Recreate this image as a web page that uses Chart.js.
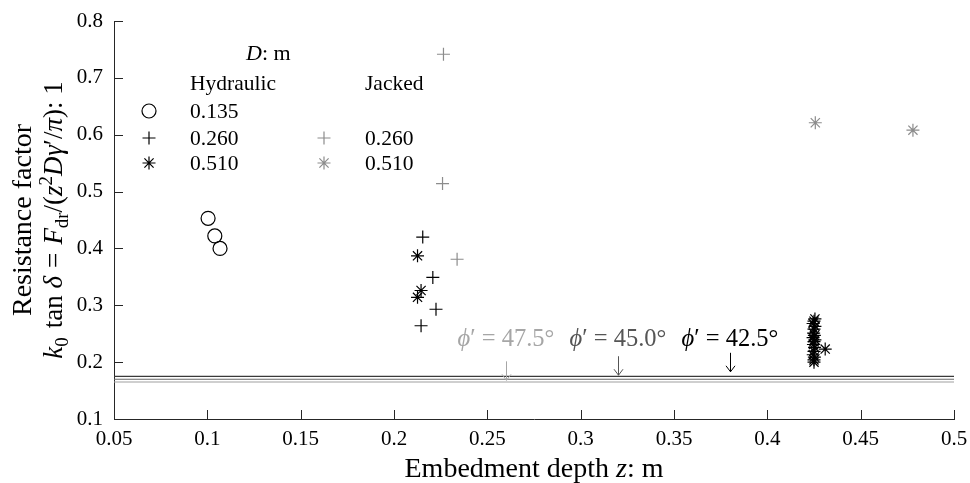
<!DOCTYPE html>
<html><head><meta charset="utf-8">
<script src="https://cdn.jsdelivr.net/npm/chart.js@4.4.1/dist/chart.umd.min.js"></script>
<style>html,body{margin:0;padding:0;background:#fff}#wrap{width:970px;height:483px;position:relative}</style>
</head><body><div id="wrap"><canvas id="c"></canvas></div>
<script>
// ---- tick values / labels ----
const xTicks = [0.05, 0.1, 0.15, 0.2, 0.25, 0.3, 0.35, 0.4, 0.45, 0.5];
const xTickLabels = ['0.05', '0.1', '0.15', '0.2', '0.25', '0.3', '0.35', '0.4', '0.45', '0.5'];
const yTicks = [0.1, 0.2, 0.3, 0.4, 0.5, 0.6, 0.7, 0.8];
const yTickLabels = ['0.1', '0.2', '0.3', '0.4', '0.5', '0.6', '0.7', '0.8'];

// ---- series: Hydraulic ----
const hyd135X = [0.1004, 0.1040, 0.1068];
const hyd135Y = [0.453, 0.422, 0.400];
const hyd260X = [0.2154, 0.2208, 0.2225, 0.2145];
const hyd260Y = [0.420, 0.349, 0.293, 0.264];
const hyd510X = [0.2126, 0.2145, 0.2126,
  0.4255, 0.4250, 0.4245, 0.4255, 0.4250, 0.4248, 0.4252, 0.4245, 0.4255, 0.4250, 0.4247, 0.4253, 0.4250, 0.4246, 0.4252, 0.4250, 0.4250,
  0.4310];
const hyd510Y = [0.387, 0.326, 0.314,
  0.276, 0.272, 0.268, 0.263, 0.258, 0.251, 0.247, 0.243, 0.239, 0.236, 0.231, 0.226, 0.219, 0.213, 0.209, 0.204, 0.200,
  0.223];

// ---- series: Jacked ----
const jac260X = [0.2265, 0.2260, 0.2338];
const jac260Y = [0.7415, 0.514, 0.381];
const jac510X = [0.4257, 0.4780];
const jac510Y = [0.621, 0.608];

// ---- reference lines for friction angles ----
const phiLabels = ['47.5', '45.0', '42.5'];
const phiLineY = [0.165, 0.170, 0.175];
const phiArrowX = [0.26, 0.32, 0.38];
const phiArrowTipY = [0.168, 0.177, 0.183];
const phiLabelY = 0.229;
const lineXRange = [0.05, 0.5];

const phiColors = ['#a6a6a6', '#555555', '#000000'];
const lineColors = ['#a0a0a0', '#6a6a6a', '#3a3a3a'];
const GRAY = '#8c8c8c';
const FAM = "'Liberation Serif', 'Times New Roman', serif";

const pts = (xs, ys) => xs.map((x, i) => ({x, y: ys[i]}));

const datasets = [];
phiLineY.forEach((yv, i) => {
  datasets.push({type: 'line', data: lineXRange.map(x => ({x, y: yv})), borderColor: lineColors[i],
    borderWidth: 1.1, pointRadius: 0, fill: false, showLine: true});
});
datasets.push(
  {label: 'H0.135', data: pts(hyd135X, hyd135Y), pointStyle: 'circle', pointRadius: 7, borderColor: '#000', backgroundColor: 'rgba(0,0,0,0)', pointBorderWidth: 1.2},
  {label: 'H0.260', data: pts(hyd260X, hyd260Y), pointStyle: 'cross', pointRadius: 6.5, borderColor: '#000', pointBorderWidth: 1.2},
  {label: 'H0.510', data: pts(hyd510X, hyd510Y), pointStyle: 'star', pointRadius: 6.5, borderColor: '#000', pointBorderWidth: 1.2},
  {label: 'J0.260', data: pts(jac260X, jac260Y), pointStyle: 'cross', pointRadius: 6.5, borderColor: GRAY, pointBorderWidth: 1.2},
  {label: 'J0.510', data: pts(jac510X, jac510Y), pointStyle: 'star', pointRadius: 6.5, borderColor: GRAY, pointBorderWidth: 1.2}
);

function drawRich(ctx, segs, size, color, align) {
  let w = 0;
  const items = segs.map(s => {
    const sz = (s.sub || s.sup) ? size * 0.7 : size;
    const font = (s.it ? 'italic ' : '') + sz + 'px ' + FAM;
    ctx.font = font;
    const m = ctx.measureText(s.t).width + (s.gap || 0) * size;
    w += m;
    return {t: s.t, font, w: m, dy: s.sub ? size * 0.22 : s.sup ? -size * 0.38 : 0};
  });
  let x = align === 'center' ? -w / 2 : align === 'right' ? -w : 0;
  ctx.fillStyle = color; ctx.textBaseline = 'alphabetic'; ctx.textAlign = 'left';
  items.forEach(it => { ctx.font = it.font; ctx.fillText(it.t, x, it.dy); x += it.w; });
}

function marker(ctx, style, x, y, r, color) {
  ctx.save(); ctx.strokeStyle = color; ctx.lineWidth = 1.2; ctx.beginPath();
  if (style === 'circle') { ctx.arc(x, y, r, 0, Math.PI * 2); }
  else {
    ctx.moveTo(x - r, y); ctx.lineTo(x + r, y); ctx.moveTo(x, y - r); ctx.lineTo(x, y + r);
    if (style === 'star') { const d = r * Math.SQRT1_2; ctx.moveTo(x - d, y - d); ctx.lineTo(x + d, y + d); ctx.moveTo(x - d, y + d); ctx.lineTo(x + d, y - d); }
  }
  ctx.stroke(); ctx.restore();
}

const decor = {
  id: 'decor',
  afterDraw(chart) {
    const {ctx, chartArea: a, scales: {x, y}} = chart;
    // inward ticks
    ctx.save(); ctx.strokeStyle = '#262626'; ctx.lineWidth = 1; ctx.beginPath();
    x.ticks.forEach(t => { const px = Math.round(x.getPixelForValue(t.value)) + 0.5; ctx.moveTo(px, a.bottom); ctx.lineTo(px, a.bottom - 9); });
    y.ticks.forEach(t => { const py = Math.round(y.getPixelForValue(t.value)) + 0.5; ctx.moveTo(a.left, py); ctx.lineTo(a.left + 9, py); });
    ctx.stroke(); ctx.restore();

    // axis titles
    ctx.save(); ctx.translate((a.left + a.right) / 2, 477);
    drawRich(ctx, [{t: 'Embedment depth '}, {t: 'z', it: true}, {t: ': m'}], 28, '#000', 'center');
    ctx.restore();
    const cy = (a.top + a.bottom) / 2;
    ctx.save(); ctx.translate(31, cy); ctx.rotate(-Math.PI / 2);
    drawRich(ctx, [{t: 'Resistance factor'}], 28, '#000', 'center');
    ctx.restore();
    ctx.save(); ctx.translate(62, cy); ctx.rotate(-Math.PI / 2);
    drawRich(ctx, [{t: 'k', it: true}, {t: '0', sub: true, gap: 0.08}, {t: ' tan '}, {t: 'δ', it: true, gap: 0.05}, {t: ' = ', gap: 0.05}, {t: 'F', it: true}, {t: 'dr', sub: true},
      {t: '/('}, {t: 'z', it: true}, {t: '2', sup: true}, {t: 'D', it: true, gap: 0.03}, {t: 'γ', it: true}, {t: '′/'}, {t: 'π', it: true}, {t: '): 1'}], 27, '#000', 'center');
    ctx.restore();

    // legend
    ctx.save(); ctx.translate(246, 60); drawRich(ctx, [{t: 'D', it: true}, {t: ': m'}], 22, '#000', 'left'); ctx.restore();
    ctx.save(); ctx.translate(190, 90); drawRich(ctx, [{t: 'Hydraulic'}], 21.5, '#000', 'left'); ctx.restore();
    ctx.save(); ctx.translate(365, 90); drawRich(ctx, [{t: 'Jacked'}], 21.5, '#000', 'left'); ctx.restore();
    const rows = [[111, '0.135', 'circle', 7], [138, '0.260', 'cross', 6.5], [163, '0.510', 'star', 6.5]];
    rows.forEach(([ry, lab, st, r]) => {
      marker(ctx, st, 149, ry, r, '#000');
      ctx.save(); ctx.translate(190, ry + 7); drawRich(ctx, [{t: lab}], 21.5, '#000', 'left'); ctx.restore();
      if (st !== 'circle') {
        marker(ctx, st, 324, ry, r, GRAY);
        ctx.save(); ctx.translate(365, ry + 7); drawRich(ctx, [{t: lab}], 21.5, '#000', 'left'); ctx.restore();
      }
    });

    // phi labels and arrows
    phiLabels.forEach((lab, i) => {
      const px = x.getPixelForValue(phiArrowX[i]);
      const tip = y.getPixelForValue(phiArrowTipY[i]);
      ctx.save(); ctx.translate(px, y.getPixelForValue(phiLabelY));
      drawRich(ctx, [{t: 'ϕ', it: true}, {t: '′ = ' + lab + '°'}], 24.5, phiColors[i], 'center');
      ctx.restore();
      const ax = Math.round(px) + 0.5;
      ctx.save(); ctx.strokeStyle = phiColors[i]; ctx.lineWidth = 1; ctx.beginPath();
      ctx.moveTo(ax, tip - 19); ctx.lineTo(ax, tip);
      ctx.moveTo(ax - 4.5, tip - 6); ctx.lineTo(ax, tip); ctx.lineTo(ax + 4.5, tip - 6);
      ctx.stroke(); ctx.restore();
    });
  }
};

new Chart(document.getElementById('c'), {
  type: 'scatter',
  data: {datasets},
  options: {
    responsive: true, maintainAspectRatio: false, animation: false,
    layout: {padding: {top: 21, right: 16, left: 0, bottom: 0}},
    plugins: {legend: {display: false}, tooltip: {enabled: false}},
    scales: {
      x: {
        type: 'linear', min: 0.05, max: 0.5,
        afterBuildTicks: s => { s.ticks = xTicks.map(v => ({value: v})); },
        afterFit: s => { s.height = 64; s.paddingLeft = 0; s.paddingRight = 0; },
        ticks: {callback: (v, i) => xTickLabels[i], color: '#000', font: {family: FAM, size: 21}, padding: 8, maxRotation: 0, autoSkip: false},
        grid: {display: true, drawOnChartArea: false, drawTicks: false},
        border: {display: true, color: '#262626', width: 1}
      },
      y: {
        type: 'linear', min: 0.1, max: 0.8,
        afterBuildTicks: s => { s.ticks = yTicks.map(v => ({value: v})); },
        afterFit: s => { s.width = 114; s.paddingTop = 0; s.paddingBottom = 0; },
        ticks: {callback: (v, i) => yTickLabels[i], color: '#000', font: {family: FAM, size: 21}, padding: 11, autoSkip: false},
        grid: {display: true, drawOnChartArea: false, drawTicks: false},
        border: {display: true, color: '#262626', width: 1}
      }
    }
  },
  plugins: [decor]
});
</script></body></html>
